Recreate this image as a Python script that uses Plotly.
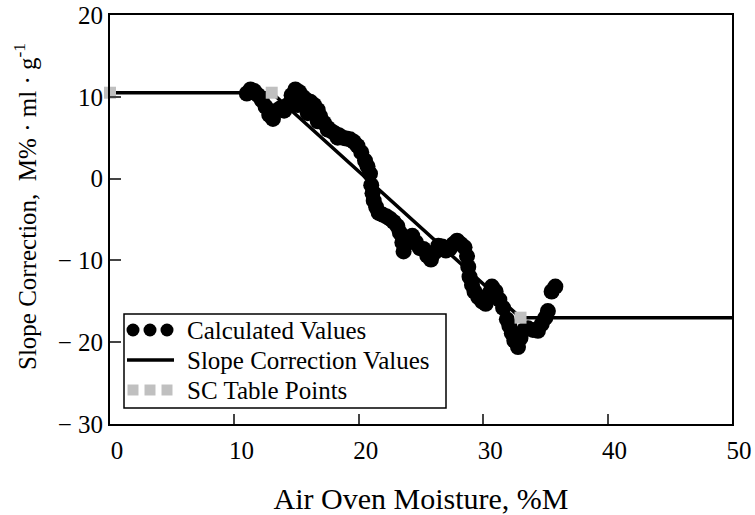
import plotly.graph_objects as go

# Calculated values
calc_x = [11.0, 11.3, 11.6, 11.9, 12.2, 12.5, 12.8, 13.1, 13.4, 13.7, 14.0, 14.3, 14.6, 14.9,
          15.2, 15.5, 15.8, 16.1, 16.4, 16.7, 16.9, 17.2, 17.5, 17.8, 18.1, 18.4, 18.7, 19.0,
          19.3, 19.6, 19.9, 20.2, 20.5, 20.7, 20.9, 21.0, 21.1, 21.2, 21.4, 21.6, 21.9, 22.2,
          22.5, 22.8, 23.1, 23.3, 23.5, 23.6, 23.8, 24.0, 24.3, 24.6, 24.9, 25.2, 25.5, 25.8,
          26.1, 26.4, 26.7, 27.0, 27.3, 27.6, 27.9, 28.2, 28.5, 28.7, 28.8, 28.9, 29.1, 29.3,
          29.6, 29.9, 30.2, 30.5, 30.7, 31.0, 31.3, 31.6, 31.9, 32.1, 32.3, 32.5, 32.8, 33.0,
          33.3, 33.6, 34.0, 34.4, 34.7, 35.0, 35.2, 35.5, 35.8,
          15.1, 15.9, 16.7, 17.5, 18.3]
calc_y = [10.4, 10.9, 10.7, 10.2, 9.6, 8.8, 7.8, 7.3, 8.3, 8.6, 8.3, 9.0, 10.2, 10.9,
          10.6, 10.0, 9.6, 9.4, 9.0, 8.4, 7.6, 6.8, 6.2, 5.8, 5.5, 5.3, 5.0, 4.9,
          4.8, 4.5, 4.0, 3.2, 2.2, 1.5, 0.6, -0.8, -1.8, -2.7, -3.5, -4.2, -4.4, -4.6,
          -4.9, -5.3, -5.8, -6.6, -7.8, -8.9, -8.0, -7.2, -7.0, -7.8, -8.5, -8.6, -9.4, -9.9,
          -9.0, -8.2, -8.3, -8.8, -8.6, -8.0, -7.6, -8.0, -8.4, -9.5, -10.8, -12.0, -13.0, -13.8,
          -14.5, -15.0, -15.3, -14.0, -13.2, -13.8, -14.8, -15.8, -17.2, -18.0, -18.9, -19.8, -20.6, -19.5,
          -18.5, -18.3, -18.5, -18.6, -17.8, -17.0, -16.2, -13.8, -13.2,
          9.0, 8.0, 7.0, 6.0, 5.0]

# Slope correction line
sc_line_x = [0, 13, 33, 50]
sc_line_y = [10.5, 10.5, -17, -17]

# SC table points
sc_pts_x = [0, 13, 33]
sc_pts_y = [10.5, 10.5, -17]

x_ticks = [0, 10, 20, 30, 40, 50]
y_ticks = [20, 10, 0, -10, -20, -30]
y_ticktext = ["20", "10", "0", "\u2212 10", "\u2212 20", "\u2212 30"]

legend_names = ["Calculated Values", "Slope Correction Values", "SC Table Points"]

FONT = "Liberation Serif"
FS = 25
W, H = 755, 515
ML, MR, MT, MB = 110, 23, 15, 91
PW, PH = W - ML - MR, H - MT - MB


def px(x):
    return (x - ML) / PW


def py(y):
    return (H - MB - y) / PH


fig = go.Figure()
fig.add_trace(go.Scatter(x=sc_line_x, y=sc_line_y, mode="lines", name=legend_names[1],
                         line=dict(color="black", width=3.5)))
fig.add_trace(go.Scatter(x=calc_x, y=calc_y, mode="markers", name=legend_names[0],
                         marker=dict(symbol="circle", size=16, color="black")))
fig.add_trace(go.Scatter(x=sc_pts_x, y=sc_pts_y, mode="markers", name=legend_names[2],
                         marker=dict(symbol="square", size=12, color="#c0c0c0"),
                         cliponaxis=False))

# Hand-built legend (Mathcad style: three symbols per entry)
shapes = [dict(type="rect", xref="paper", yref="paper",
               x0=px(124), x1=px(446), y0=py(408), y1=py(314),
               line=dict(color="black", width=1.5), fillcolor="white", layer="above")]
row_y = [330, 360, 390]
sym_x = [133, 150, 167]
for cx in sym_x:
    shapes.append(dict(type="circle", xref="paper", yref="paper",
                       x0=px(cx - 6.5), x1=px(cx + 6.5), y0=py(row_y[0] + 6.5), y1=py(row_y[0] - 6.5),
                       fillcolor="black", line=dict(width=0), layer="above"))
    shapes.append(dict(type="rect", xref="paper", yref="paper",
                       x0=px(cx - 5.5), x1=px(cx + 5.5), y0=py(row_y[2] + 5.5), y1=py(row_y[2] - 5.5),
                       fillcolor="#c0c0c0", line=dict(width=0), layer="above"))
shapes.append(dict(type="line", xref="paper", yref="paper",
                   x0=px(127), x1=px(174), y0=py(row_y[1]), y1=py(row_y[1]),
                   line=dict(color="black", width=3.5), layer="above"))

annotations = []
for name, ry in zip(legend_names, row_y):
    annotations.append(dict(text=name, xref="paper", yref="paper", x=px(185), y=py(ry),
                            xanchor="left", yanchor="middle", showarrow=False,
                            font=dict(family=FONT, size=FS, color="black")))
annotations.append(dict(text="Slope Correction,  M% \u00b7 ml \u00b7 g<sup>-1</sup>",
                        xref="paper", yref="paper", x=px(25), y=py(207),
                        xanchor="center", yanchor="middle", textangle=-90, showarrow=False,
                        font=dict(family=FONT, size=FS, color="black")))

fig.update_layout(
    width=W, height=H,
    margin=dict(l=ML, r=MR, t=MT, b=MB, autoexpand=False),
    paper_bgcolor="white", plot_bgcolor="white",
    font=dict(family=FONT, size=FS, color="black"),
    showlegend=False,
    shapes=shapes,
    annotations=annotations,
)
fig.update_xaxes(range=[0, 50], tickvals=x_ticks, ticks="inside", ticklen=10, tickwidth=2,
                 showline=True, linecolor="black", linewidth=2, mirror=True, automargin=False,
                 showgrid=False, zeroline=False, ticklabelshift=7, ticklabelstandoff=3,
                 title=dict(text="Air Oven Moisture, %M", standoff=40))
fig.update_yaxes(range=[-30, 20], tickvals=y_ticks, ticktext=y_ticktext, ticks="inside",
                 ticklen=11, tickwidth=2, automargin=False,
                 showline=True, linecolor="black", linewidth=2, mirror=True,
                 showgrid=False, zeroline=False)

fig.write_html("out.html")
